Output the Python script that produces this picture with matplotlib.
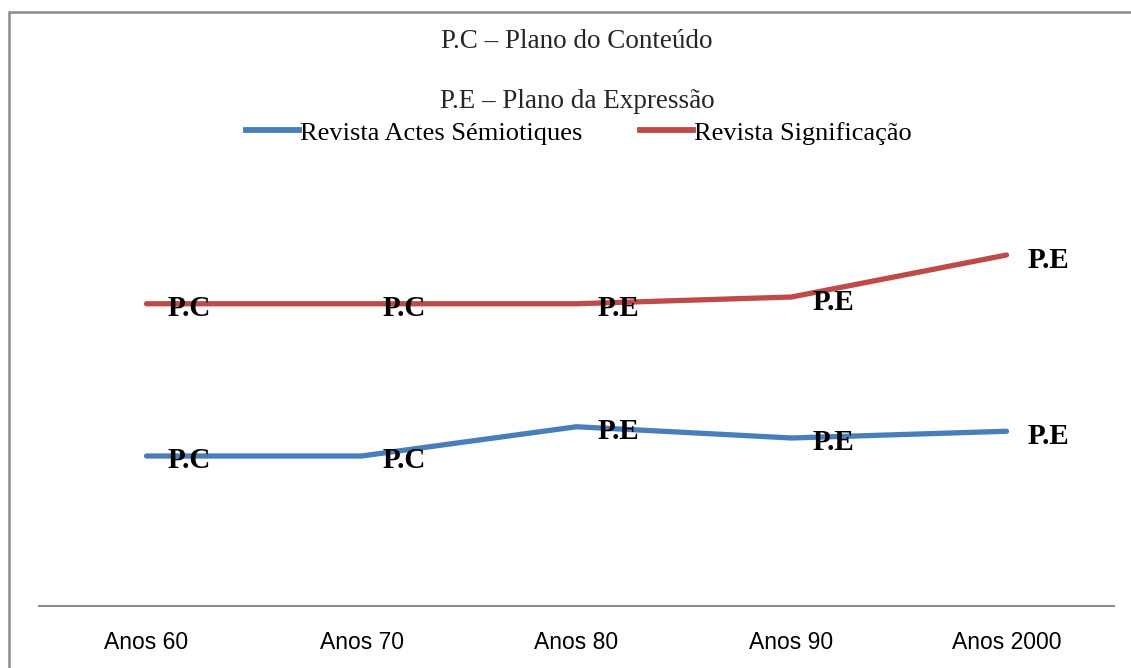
import matplotlib.pyplot as plt
from matplotlib.patches import Rectangle
from matplotlib.lines import Line2D

# Decades and the plane each journal focuses on
decades = ['Anos 60', 'Anos 70', 'Anos 80', 'Anos 90', 'Anos 2000']
actes = [2.0, 2.0, 2.39, 2.24, 2.33]
actes_labels = ['P.C', 'P.C', 'P.E', 'P.E', 'P.E']
signif = [4.03, 4.03, 4.03, 4.12, 4.68]
signif_labels = ['P.C', 'P.C', 'P.E', 'P.E', 'P.E']

blue = '#4a7ebb'
red = '#be4b48'

fig = plt.figure(figsize=(11.31, 6.68), dpi=100)
ax = fig.add_axes([39 / 1131, 62 / 668, 1075 / 1131, 450 / 668])

x = range(len(decades))
ax.plot(x, actes, color=blue, lw=3.8, solid_capstyle='round')
ax.plot(x, signif, color=red, lw=3.8, solid_capstyle='round')

label_font = dict(family='Liberation Serif', weight='bold', fontsize=21)
for vals, labs in [(actes, actes_labels), (signif, signif_labels)]:
    for i, (v, t) in enumerate(zip(vals, labs)):
        ax.annotate(t, (i, v), xytext=(21, -5), textcoords='offset pixels',
                    ha='left', va='center', **label_font)

ax.set_xlim(-0.5, len(decades) - 0.5)
ax.set_ylim(0, 6)
ax.set_xticks(list(x))
ax.set_xticklabels(decades, family='Liberation Sans', fontsize=16.5)
ax.tick_params(axis='x', length=0, pad=18)
ax.set_yticks([])
for s in ['top', 'right', 'left']:
    ax.spines[s].set_visible(False)
ax.spines['bottom'].set_color('#8c8c8c')
ax.spines['bottom'].set_linewidth(1.5)

# Notes on the two planes
fig.text(577 / 1131, 1 - 41 / 668, 'P.C \u2013 Plano do Conteúdo', ha='center', va='center',
         family='Liberation Serif', fontsize=19.5, color='#262626')
fig.text(577 / 1131, 1 - 102 / 668, 'P.E \u2013 Plano da Expressão', ha='center', va='center',
         family='Liberation Serif', fontsize=19.5, color='#262626')

handles = [Line2D([], [], color=blue, lw=4.2), Line2D([], [], color=red, lw=4.2)]
fig.legend(handles, ['Revista Actes Sémiotiques', 'Revista Significação'],
           loc='center', bbox_to_anchor=(579 / 1131, 1 - 133 / 668), ncol=2, frameon=False,
           prop={'family': 'Liberation Serif', 'size': 19}, handlelength=2.0,
           handletextpad=0.05, columnspacing=2.2)

# Frame around the chart area
fig.patches.append(Rectangle((9 / 1131, -0.1), 1.2, 1.1 - 12 / 668, transform=fig.transFigure,
                             fill=False, edgecolor='#8c8c8c', lw=1.8))

fig.savefig('out.png', dpi=100)
